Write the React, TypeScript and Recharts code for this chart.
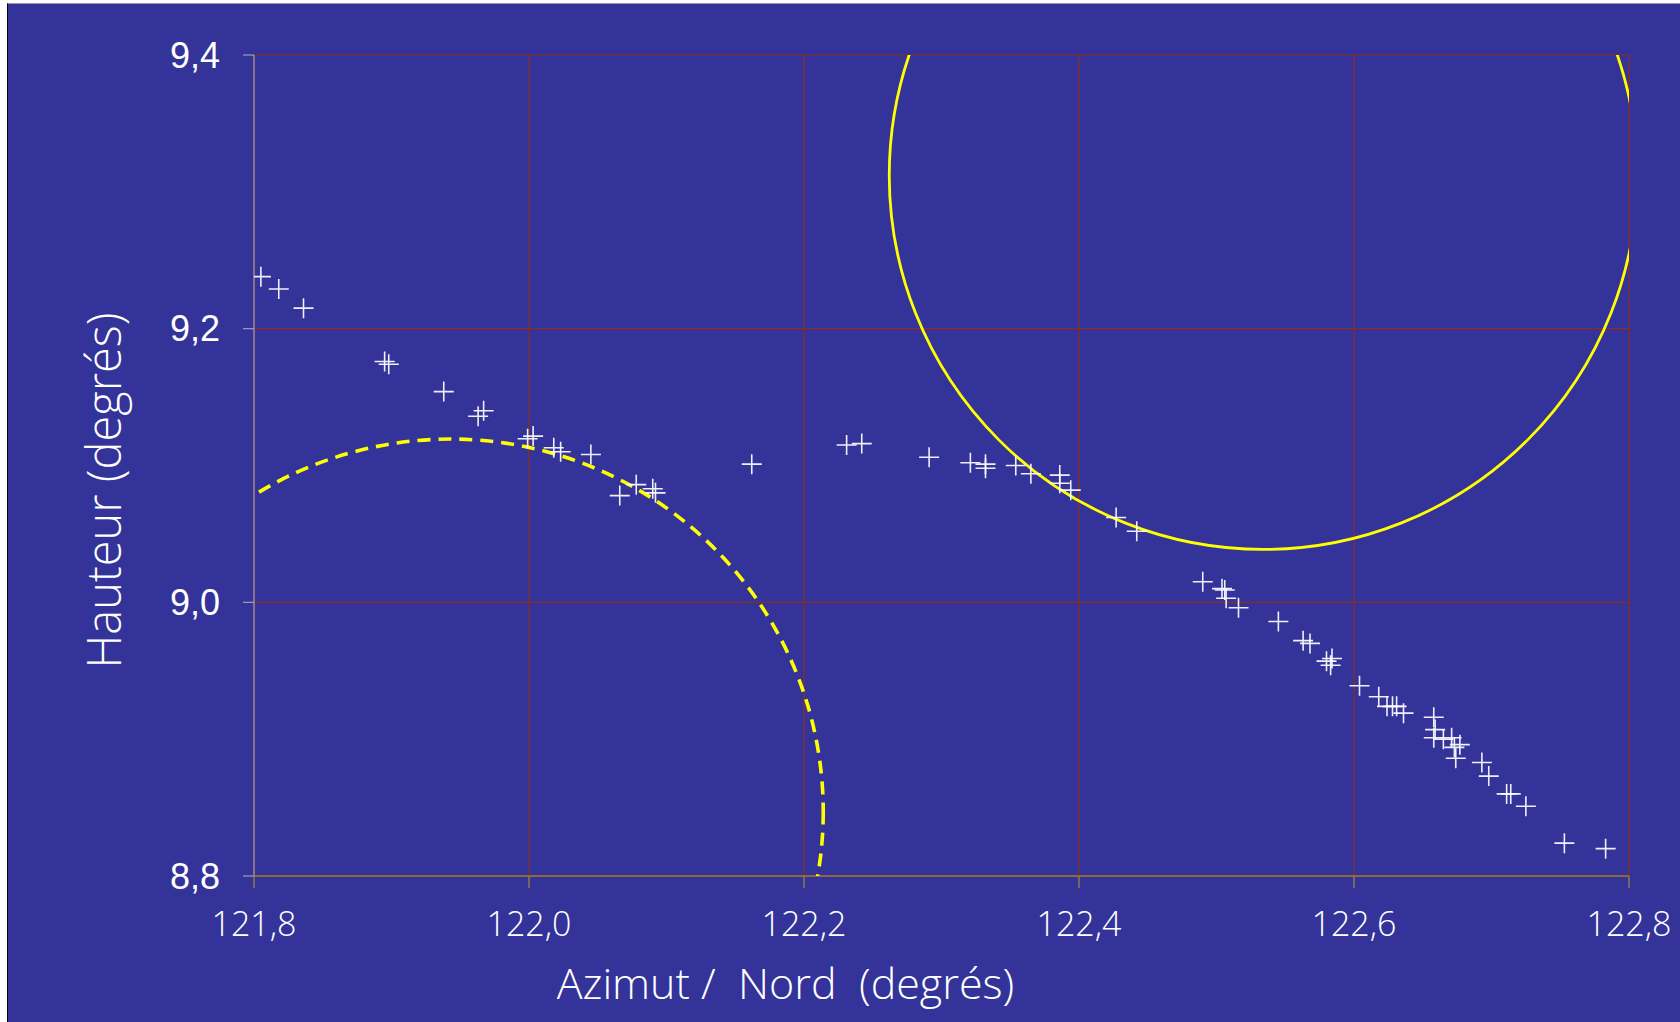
import React from "react"
import { ScatterChart, Scatter, XAxis, YAxis, CartesianGrid, ReferenceDot, Label } from "recharts"

// observations : azimut / nord (deg) et hauteur (deg)
const azimut = [
  121.805, 121.818, 121.836, 121.895, 121.898, 121.938, 121.963, 121.967, 121.999, 122.003,
  122.018, 122.023, 122.045, 122.066, 122.078, 122.09, 122.092, 122.162, 122.231, 122.242,
  122.291, 122.321, 122.332, 122.332, 122.354, 122.365, 122.386, 122.386, 122.394, 122.427,
  122.442, 122.49, 122.504, 122.506, 122.507, 122.516, 122.545, 122.563, 122.568, 122.58,
  122.584, 122.583, 122.604, 122.618, 122.624, 122.628, 122.631, 122.636, 122.658, 122.659,
  122.658, 122.665, 122.671, 122.677, 122.673, 122.674, 122.693, 122.698, 122.711, 122.714,
  122.725, 122.753, 122.783,
]
const hauteur = [
  9.238, 9.229, 9.215, 9.176, 9.174, 9.154, 9.136, 9.14, 9.1195, 9.1215,
  9.113, 9.11, 9.108, 9.078, 9.086, 9.083, 9.08, 9.101, 9.115, 9.116,
  9.106, 9.102, 9.101, 9.098, 9.1, 9.094, 9.093, 9.087, 9.082, 9.062,
  9.052, 9.015, 9.01, 9.009, 9.003, 8.996, 8.986, 8.972, 8.97, 8.957,
  8.959, 8.954, 8.939, 8.931, 8.924, 8.924, 8.924, 8.919, 8.916, 8.907,
  8.901, 8.9, 8.901, 8.896, 8.894, 8.886, 8.883, 8.873, 8.86, 8.86,
  8.851, 8.824, 8.82,
]

// disques (centre + rayon, en degres)
const soleilCentre = [122.534, 9.312]
const soleilRayon = 0.272
const lune2Centre = [121.943, 8.847]
const lune2Rayon = 0.271

const xTicks = [121.8, 122.0, 122.2, 122.4, 122.6, 122.8]
const yTicks = [8.8, 9.0, 9.2, 9.4]

const points = azimut.map((x, i) => ({ x, y: hauteur[i] }))

const W = 1672
const H = 1018
const M = { top: 51, right: 51, bottom: 46, left: 0 }
const Y_W = 246
const X_H = 100
const plotW = W - M.left - M.right - Y_W
const pxPerDeg = plotW / (xTicks[xTicks.length - 1] - xTicks[0])

const fmt = (v: number) => v.toFixed(1).replace(".", ",")

const lightFont = "'Open Sans', 'Noto Sans', sans-serif"

const Cross = (props: any) => {
  const { cx, cy } = props
  if (cx == null || cy == null) return null
  return (
    <path
      d={`M${cx - 10},${cy}h20M${cx},${cy - 10}v20`}
      stroke="#ffffff"
      strokeWidth={1.6}
      strokeOpacity={0.92}
      fill="none"
    />
  )
}

export default function App() {
  return (
    <div
      style={{
        position: "absolute",
        left: 7,
        top: 3,
        width: W + 1,
        height: H + 1,
        background: "#333399",
        borderLeft: "1px solid #000",
        borderTop: "1px solid #999",
        boxSizing: "border-box",
      }}
    >
      <ScatterChart width={W} height={H} margin={M}>
        <CartesianGrid stroke="#8b2e22" strokeWidth={1.2} />
        <XAxis
          type="number"
          dataKey="x"
          domain={[121.8, 122.8]}
          ticks={xTicks}
          tickFormatter={fmt}
          height={X_H}
          allowDataOverflow
          stroke="#9c7a2c"
          strokeWidth={1.5}
          tickLine={{ stroke: "#8a7a50" }}
          tickSize={12}
          tickMargin={24}
          tick={{ fill: "#ffffff", fontSize: 34, fontFamily: lightFont, fontWeight: 300 }}
        >
          <Label
            content={({ viewBox }: any) => (
              <text
                x={viewBox.x + viewBox.width / 2 - 156}
                y={viewBox.y + 123}
                textAnchor="middle"
                fill="#ffffff"
                fontSize={43}
                fontFamily={lightFont}
                fontWeight={300}
                style={{ whiteSpace: "pre" }}
              >
                {"Azimut /  Nord  (degrés)"}
              </text>
            )}
          />
        </XAxis>
        <YAxis
          type="number"
          dataKey="y"
          domain={[8.8, 9.4]}
          ticks={yTicks}
          tickFormatter={fmt}
          width={Y_W}
          allowDataOverflow
          stroke="#a0a0b8"
          strokeWidth={1.2}
          tickSize={11}
          tickMargin={23}
          tick={{ fill: "#ffffff", fontSize: 36, fontFamily: "'Liberation Sans', Arial, sans-serif" }}
        >
          <Label
            content={({ viewBox }: any) => {
              const cx = viewBox.x + 95
              const cy = viewBox.y + viewBox.height / 2 + 25
              return (
                <text
                  x={cx}
                  y={cy}
                  transform={`rotate(-90, ${cx}, ${cy})`}
                  textAnchor="middle"
                  dominantBaseline="central"
                  fill="#ffffff"
                  fontSize={47}
                  fontFamily={lightFont}
                  fontWeight={300}
                >
                  Hauteur (degrés)
                </text>
              )
            }}
          />
        </YAxis>
        <ReferenceDot
          x={soleilCentre[0]}
          y={soleilCentre[1]}
          r={soleilRayon * pxPerDeg}
          fill="none"
          stroke="#ffff00"
          strokeWidth={2.8}
          ifOverflow="hidden"
        />
        <ReferenceDot
          x={lune2Centre[0]}
          y={lune2Centre[1]}
          r={lune2Rayon * pxPerDeg}
          fill="none"
          stroke="#ffff00"
          strokeWidth={3.6}
          strokeDasharray="13 8"
          ifOverflow="hidden"
        />
        <Scatter data={points} shape={<Cross />} isAnimationActive={false} />
      </ScatterChart>
    </div>
  )
}
